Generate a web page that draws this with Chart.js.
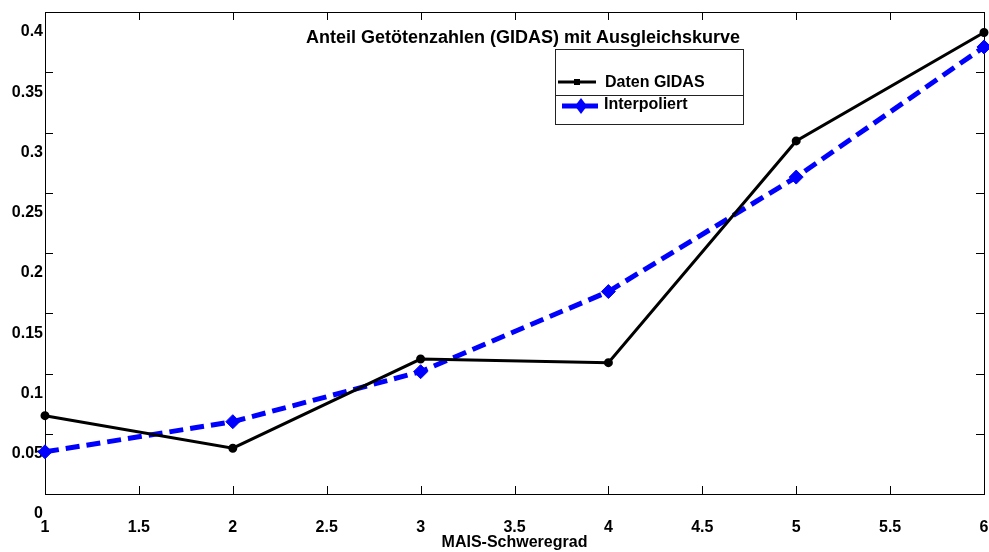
<!DOCTYPE html>
<html>
    <head>
        <title>Anteil Getötenzahlen</title>
        <meta charset="UTF-8">
        <script src="https://cdn.jsdelivr.net/npm/chart.js@4.4.1/dist/chart.umd.min.js"></script>
        <style>
            body { margin: 0; background: #fff; }
            canvas { display: block; }
        </style>
    </head>
    <body>
        <canvas id="myChart" width="989" height="552"></canvas>
        <script>
            // Werte
            const mais = [1, 2, 3, 4, 5, 6];
            const datenGidas = [0.065, 0.038, 0.112, 0.109, 0.293, 0.383];
            const interpoliert = [0.035, 0.060, 0.1015, 0.168, 0.263, 0.371];
            const seriesNames = ['Daten GIDAS', 'Interpoliert'];
            const titleText = 'Anteil Getötenzahlen (GIDAS) mit Ausgleichskurve';
            const xTitle = 'MAIS-Schweregrad';

            const fontFamily = 'Arial, "Liberation Sans", Helvetica, sans-serif';

            function toPoints(values) {
                return mais.map((x, i) => ({ x: x, y: values[i] }));
            }

            // Rahmen mit nach innen zeigenden Ticks (wie MATLAB)
            const boxPlugin = {
                id: 'boxPlugin',
                beforeDatasetsDraw(chart) {
                    const ctx = chart.ctx;
                    const a = chart.chartArea;
                    const xs = chart.scales.x;
                    const ys = chart.scales.y;
                    const len = 8;
                    ctx.save();
                    ctx.strokeStyle = '#000';
                    ctx.lineWidth = 1;
                    ctx.beginPath();
                    xs.ticks.forEach(t => {
                        let px = Math.round(xs.getPixelForValue(t.value)) + 0.5;
                        ctx.moveTo(px, a.bottom);
                        ctx.lineTo(px, a.bottom - len);
                        ctx.moveTo(px, a.top);
                        ctx.lineTo(px, a.top + len);
                    });
                    ys.ticks.forEach(t => {
                        let py = Math.round(ys.getPixelForValue(t.value)) + 0.5;
                        ctx.moveTo(a.left, py);
                        ctx.lineTo(a.left + len, py);
                        ctx.moveTo(a.right, py);
                        ctx.lineTo(a.right - len, py);
                    });
                    ctx.stroke();
                    ctx.strokeRect(a.left + 0.5, a.top + 0.5, a.right - a.left, a.bottom - a.top);
                    ctx.restore();
                }
            };

            // Titel und Legende im Achsenbereich
            const legendPlugin = {
                id: 'legendPlugin',
                afterDraw(chart) {
                    const ctx = chart.ctx;
                    ctx.save();
                    ctx.fillStyle = '#000';
                    ctx.font = 'bold 18px ' + fontFamily;
                    ctx.textAlign = 'center';
                    ctx.textBaseline = 'middle';
                    ctx.fillText(titleText, 523, 38);

                    // Legendenkasten
                    ctx.fillStyle = '#fff';
                    ctx.fillRect(555, 49, 188, 75);
                    ctx.strokeStyle = '#222';
                    ctx.lineWidth = 1;
                    ctx.strokeRect(555.5, 49.5, 188, 75);
                    ctx.beginPath();
                    ctx.moveTo(555, 95.5);
                    ctx.lineTo(743, 95.5);
                    ctx.stroke();

                    // Daten GIDAS
                    ctx.strokeStyle = '#000';
                    ctx.lineWidth = 3;
                    ctx.beginPath();
                    ctx.moveTo(558, 82);
                    ctx.lineTo(596, 82);
                    ctx.stroke();
                    ctx.fillStyle = '#000';
                    ctx.fillRect(574, 79, 6, 6);

                    // Interpoliert
                    ctx.strokeStyle = '#0000ff';
                    ctx.lineWidth = 5;
                    ctx.beginPath();
                    ctx.moveTo(562, 106);
                    ctx.lineTo(598, 106);
                    ctx.stroke();
                    ctx.fillStyle = '#0000ff';
                    ctx.beginPath();
                    ctx.moveTo(581, 98);
                    ctx.lineTo(587, 106);
                    ctx.lineTo(581, 114);
                    ctx.lineTo(575, 106);
                    ctx.closePath();
                    ctx.fill();

                    ctx.fillStyle = '#000';
                    ctx.font = 'bold 16px ' + fontFamily;
                    ctx.textAlign = 'left';
                    ctx.fillText(seriesNames[0], 605, 83);
                    ctx.fillText(seriesNames[1], 604, 105);
                    ctx.restore();
                }
            };

            const ctx = document.getElementById('myChart').getContext('2d');
            const chart = new Chart(ctx, {
                type: 'line',
                data: {
                    datasets: [{
                        label: seriesNames[0],
                        data: toPoints(datenGidas),
                        borderColor: '#000',
                        backgroundColor: '#000',
                        borderWidth: 3,
                        pointRadius: 3,
                        pointHoverRadius: 3,
                        pointStyle: 'circle',
                        tension: 0,
                        clip: false
                    }, {
                        label: seriesNames[1],
                        data: toPoints(interpoliert),
                        borderColor: '#0000ff',
                        backgroundColor: '#0000ff',
                        borderWidth: 5,
                        borderDash: [14, 7],
                        pointRadius: 7,
                        pointHoverRadius: 7,
                        pointStyle: 'rectRot',
                        pointBorderWidth: 1,
                        tension: 0,
                        clip: false
                    }]
                },
                plugins: [boxPlugin, legendPlugin],
                options: {
                    responsive: false,
                    animation: false,
                    layout: {
                        autoPadding: false,
                        padding: { top: 12, right: 5, left: 0, bottom: 0 }
                    },
                    plugins: {
                        legend: { display: false },
                        tooltip: { enabled: false }
                    },
                    scales: {
                        x: {
                            type: 'linear',
                            min: 1,
                            max: 6,
                            grid: { display: false, drawTicks: false },
                            border: { display: false },
                            ticks: {
                                stepSize: 0.5,
                                padding: 24,
                                color: '#000',
                                maxRotation: 0,
                                autoSkip: false,
                                font: { family: fontFamily, size: 16, weight: 'bold' },
                                callback: v => String(+v.toFixed(2))
                            },
                            title: {
                                display: true,
                                text: xTitle,
                                color: '#000',
                                padding: { top: 0, bottom: 0 },
                                font: { family: fontFamily, size: 16, weight: 'bold' }
                            },
                            afterFit: s => {
                                s.height = 58;
                                s.paddingLeft = 0;
                                s.paddingRight = 0;
                            }
                        },
                        y: {
                            min: 0,
                            max: 0.4,
                            grid: { display: false, drawTicks: false },
                            border: { display: false },
                            ticks: {
                                stepSize: 0.05,
                                padding: 2,
                                labelOffset: 20,
                                color: '#000',
                                autoSkip: false,
                                font: { family: fontFamily, size: 16, weight: 'bold' },
                                callback: v => String(+v.toFixed(2))
                            },
                            afterFit: s => {
                                s.width = 45;
                                s.paddingTop = 0;
                                s.paddingBottom = 0;
                            }
                        }
                    }
                }
            });
        </script>
    </body>
</html>
